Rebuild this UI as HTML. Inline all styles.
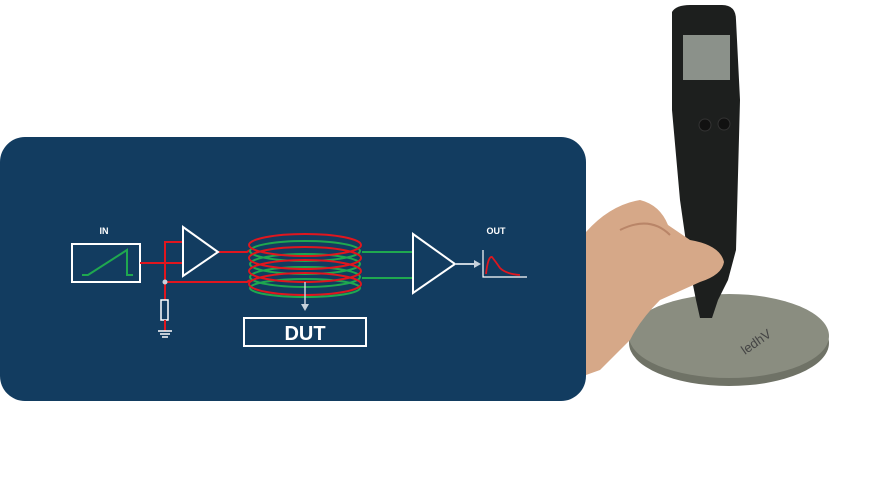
<!DOCTYPE html>
<html><head><style>
html,body{margin:0;padding:0;background:#fff;width:894px;height:483px;overflow:hidden}
</style></head><body>
<svg width="894" height="483" viewBox="0 0 894 483" xmlns="http://www.w3.org/2000/svg" style="display:block;font-family:'Liberation Sans',sans-serif">
<!-- photo: base -->
<ellipse cx="729" cy="343" rx="100" ry="43" fill="#6f7266"/>
<ellipse cx="729" cy="336" rx="100" ry="42" fill="#8a8d80"/>
<text x="745" y="355" font-size="13" fill="#444" transform="rotate(-35 745 355)">ledhV</text>
<!-- device -->
<path d="M672 12 Q676 5 690 5 L722 5 Q736 5 736 20 L740 100 L736 250 L728 280 L718 300 L712 318 L700 318 L696 300 L690 270 L680 200 L672 110 Z" fill="#1d1f1e"/>
<rect x="683" y="35" width="47" height="45" fill="#8b918a"/>
<circle cx="705" cy="125" r="6" fill="#111" stroke="#333"/>
<circle cx="724" cy="124" r="6" fill="#111" stroke="#333"/>
<!-- hand -->
<path d="M586 232 Q610 205 640 200 Q660 205 668 225 L690 240 Q720 245 724 262 Q722 275 700 282 L660 300 Q640 320 630 340 L600 370 L586 375 Z" fill="#d6a888"/>
<path d="M620 230 Q650 215 670 235" stroke="#b98568" fill="none" stroke-width="2"/>
<!-- panel -->
<rect x="0" y="137" width="586" height="264" rx="25" fill="#123c60"/>
<g fill="none" stroke-width="2">
<text x="104" y="234" font-size="9" fill="#fff" stroke="none" text-anchor="middle" font-weight="bold">IN</text>
<rect x="72" y="244" width="68" height="38" stroke="#fff"/>
<polyline points="82,275 88,275 127,250 127,275 133,275" stroke="#1fa84f"/>
<polyline points="140,263 183,263" stroke="#e0161e"/>
<polyline points="183,242 165,242 165,300" stroke="#e0161e"/>
<polyline points="165,282 247,282 250,280" stroke="#e0161e"/>
<polyline points="218,252 247,252 250,250" stroke="#e0161e"/>
<polygon points="183,227 183,276 218,252" stroke="#fff"/>
<circle cx="165" cy="282" r="2.5" fill="#c7d2dc" stroke="none"/>
<rect x="161" y="300" width="7" height="20" stroke="#fff" stroke-width="1.5"/>
<line x1="165" y1="320" x2="165" y2="331" stroke="#e0161e"/>
<line x1="158" y1="331" x2="172" y2="331" stroke="#fff" stroke-width="1.5"/>
<line x1="160" y1="334" x2="170" y2="334" stroke="#fff" stroke-width="1.5"/>
<line x1="162" y1="337" x2="168" y2="337" stroke="#fff" stroke-width="1.5"/>
<ellipse cx="305" cy="251" rx="55" ry="10" stroke="#1fa84f"/>
<ellipse cx="305" cy="264" rx="55" ry="10" stroke="#1fa84f"/>
<ellipse cx="305" cy="277" rx="55" ry="10" stroke="#1fa84f"/>
<ellipse cx="305" cy="288" rx="55" ry="9" stroke="#1fa84f"/>
<ellipse cx="305" cy="245" rx="56" ry="11" stroke="#e0161e"/>
<ellipse cx="305" cy="258" rx="56" ry="11" stroke="#e0161e"/>
<ellipse cx="305" cy="271" rx="56" ry="11" stroke="#e0161e"/>
<ellipse cx="305" cy="284" rx="56" ry="11" stroke="#e0161e"/>
<line x1="362" y1="252" x2="413" y2="252" stroke="#1fa84f"/>
<line x1="362" y1="278" x2="413" y2="278" stroke="#1fa84f"/>
<polygon points="413,234 413,293 455,264" stroke="#fff"/>
<line x1="455" y1="264" x2="474" y2="264" stroke="#c7d2dc"/>
<polygon points="474,260 481,264 474,268" fill="#c7d2dc" stroke="none"/>
<line x1="305" y1="282" x2="305" y2="305" stroke="#c7d2dc" stroke-width="1.5"/>
<polygon points="301,304 309,304 305,311" fill="#c7d2dc" stroke="none"/>
<rect x="244" y="318" width="122" height="28" stroke="#fff"/>
<text x="305" y="340" font-size="20" fill="#fff" stroke="none" text-anchor="middle" font-weight="bold">DUT</text>
<text x="496" y="234" font-size="9" fill="#fff" stroke="none" text-anchor="middle" font-weight="bold">OUT</text>
<polyline points="483,250 483,277 527,277" stroke="#fff" stroke-width="1.2"/>
<path d="M486 274 Q488 256 492 257 Q496 262 500 268 Q506 274 520 275" stroke="#e0161e" stroke-width="1.8"/>
</g>
</svg>
</body></html>
